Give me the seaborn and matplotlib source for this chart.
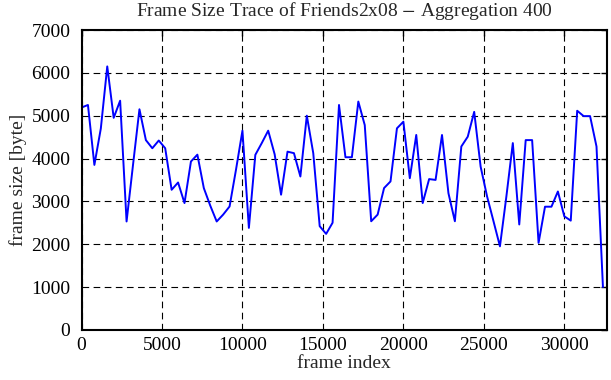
import matplotlib
matplotlib.use("Agg")
import matplotlib.pyplot as plt
import seaborn as sns
import pandas as pd

# frame sizes averaged over windows of 400 frames
frame_sizes = [5190, 5250, 3850, 4700, 6150, 4950, 5350, 2530, 3850, 5150,
               4430, 4240, 4420, 4240, 3270, 3440, 2960, 3930, 4090, 3310,
               2900, 2530, 2690, 2880, 3740, 4650, 2380, 4085, 4360, 4650,
               4100, 3155, 4160, 4125, 3580, 5000, 4125, 2420, 2240, 2500,
               5250, 4030, 4030, 5330, 4780, 2535, 2690, 3310, 3465, 4705,
               4860, 3540, 4550, 2960, 3520, 3500, 4550, 3190, 2535, 4280,
               4510, 5090, 3810, 3115, 2535, 1950, 3115, 4360, 2460, 4430,
               4430, 2030, 2875, 2875, 3230, 2650, 2550, 5115, 4990, 4990,
               4280, 1000]
aggregation = 400
frame_index = [i * aggregation for i in range(len(frame_sizes))]
x_ticks = [0, 5000, 10000, 15000, 20000, 25000, 30000]
y_ticks = [0, 1000, 2000, 3000, 4000, 5000, 6000, 7000]

df = pd.DataFrame({"frame index": frame_index, "frame size": frame_sizes})

sns.set_style("white")
plt.rcParams['font.family'] = ['Liberation Serif', 'DejaVu Serif']
plt.rcParams['mathtext.fontset'] = 'stix'

fig = plt.figure(figsize=(6.11, 3.80), dpi=100)
ax = fig.add_axes([0.1334, 0.132, 0.860, 0.789])

sns.lineplot(data=df, x="frame index", y="frame size", color="#0000ff",
             linewidth=1.4, ax=ax)

ax.set_xlim(0, 32650)
ax.set_ylim(0, 7000)
ax.set_xticks(x_ticks)
ax.set_yticks(y_ticks)
ax.grid(True, color="black", linestyle=(0, (6, 4)), linewidth=0.8)
ax.set_axisbelow(True)
ax.tick_params(direction="in", length=4, width=1.0, top=True, right=True,
               labelsize=14, colors="black")
ax.tick_params(axis="y", pad=8)
ax.tick_params(axis="x", pad=5)
for s in ax.spines.values():
    s.set_visible(True)
    s.set_color("black")
    s.set_linewidth(1.5)

ax.set_title("Frame Size Trace of Friends2x08 $-$ Aggregation 400",
             fontsize=14, pad=10)
ax.set_xlabel("frame index", fontsize=14, labelpad=1)
ax.set_ylabel("frame size [byte]", fontsize=14, labelpad=3)

fig.savefig("out.png", dpi=100)
